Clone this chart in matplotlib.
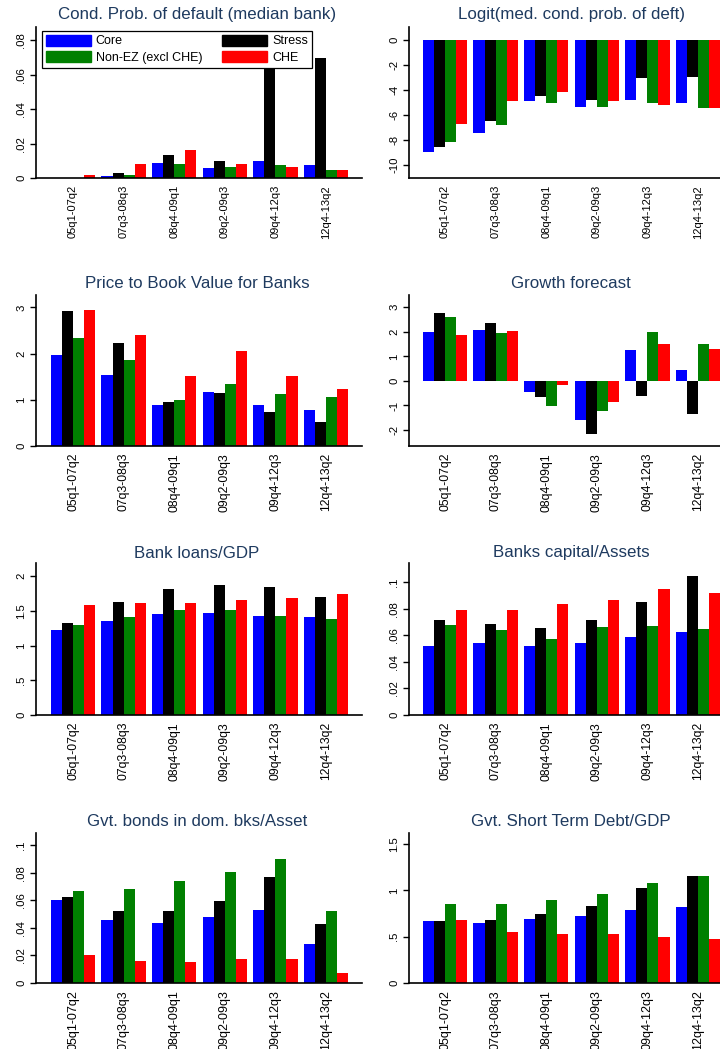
import matplotlib
matplotlib.use("Agg")
import matplotlib.pyplot as plt
import numpy as np
from matplotlib.patches import Patch

plt.rcParams['font.family'] = ['Liberation Sans', 'DejaVu Sans']

periods = ["05q1-07q2", "07q3-08q3", "08q4-09q1", "09q2-09q3", "09q4-12q3", "12q4-13q2"]
groups = ["Core", "Stress", "Non-EZ (excl CHE)", "CHE"]
colors = ["#0000ff", "#000000", "#008000", "#ff0000"]

# rows: Core, Stress, Non-EZ, CHE
cond_prob = [[0.0, 0.001, 0.0089, 0.0056, 0.010, 0.0075],
             [0.0, 0.003, 0.0135, 0.010, 0.074, 0.0698],
             [0.0, 0.0015, 0.0083, 0.0062, 0.0075, 0.0048],
             [0.0015, 0.0083, 0.016, 0.0083, 0.0062, 0.0048]]
logit_prob = [[-9.02, -7.43, -4.93, -5.36, -4.83, -5.09],
              [-8.60, -6.53, -4.51, -4.83, -3.08, -2.97],
              [-8.22, -6.82, -5.09, -5.36, -5.09, -5.46],
              [-6.71, -4.93, -4.22, -4.93, -5.20, -5.46]]
price_book = [[1.97, 1.54, 0.88, 1.17, 0.88, 0.78],
              [2.92, 2.24, 0.95, 1.15, 0.73, 0.53],
              [2.34, 1.87, 1.00, 1.34, 1.12, 1.07],
              [2.94, 2.41, 1.51, 2.05, 1.51, 1.23]]
growth = [[2.01, 2.06, -0.47, -1.59, 1.25, 0.46],
          [2.75, 2.35, -0.65, -2.16, -0.62, -1.34],
          [2.60, 1.97, -1.02, -1.22, 2.01, 1.51],
          [1.87, 2.02, -0.16, -0.85, 1.51, 1.29]]
loans_gdp = [[1.22, 1.36, 1.46, 1.47, 1.42, 1.41],
             [1.32, 1.63, 1.81, 1.88, 1.84, 1.70],
             [1.29, 1.41, 1.51, 1.51, 1.42, 1.38],
             [1.58, 1.62, 1.62, 1.65, 1.68, 1.75]]
capital_assets = [[0.0518, 0.054, 0.0518, 0.054, 0.0585, 0.0626],
                  [0.0711, 0.0683, 0.0651, 0.0711, 0.0847, 0.1048],
                  [0.0676, 0.0636, 0.0575, 0.0661, 0.0666, 0.0646],
                  [0.0789, 0.0789, 0.0837, 0.0864, 0.0947, 0.0915]]
gvt_bonds = [[0.0602, 0.0455, 0.0434, 0.0482, 0.053, 0.0287],
             [0.0627, 0.052, 0.052, 0.0593, 0.0773, 0.0427],
             [0.0667, 0.0682, 0.0742, 0.0805, 0.0904, 0.0525],
             [0.0205, 0.0157, 0.0154, 0.0173, 0.0173, 0.0075]]
short_debt = [[0.665, 0.647, 0.69, 0.72, 0.79, 0.817],
              [0.665, 0.68, 0.741, 0.827, 1.03, 1.155],
              [0.853, 0.853, 0.896, 0.96, 1.08, 1.155],
              [0.676, 0.55, 0.525, 0.525, 0.50, 0.475]]

panels = [
    ("Cond. Prob. of default (median bank)", cond_prob, (0, 0.0877),
     [0, .02, .04, .06, .08], ["0", ".02", ".04", ".06", ".08"]),
    ("Logit(med. cond. prob. of deft)", logit_prob, (-11.06, 1.0),
     [-10, -8, -6, -4, -2, 0], ["-10", "-8", "-6", "-4", "-2", "0"]),
    ("Price to Book Value for Banks", price_book, (0, 3.27),
     [0, 1, 2, 3], ["0", "1", "2", "3"]),
    ("Growth forecast", growth, (-2.65, 3.5),
     [-2, -1, 0, 1, 2, 3], ["-2", "-1", "0", "1", "2", "3"]),
    ("Bank loans/GDP", loans_gdp, (0, 2.19),
     [0, .5, 1, 1.5, 2], ["0", ".5", "1", "1.5", "2"]),
    ("Banks capital/Assets", capital_assets, (0, 0.1143),
     [0, .02, .04, .06, .08, .1], ["0", ".02", ".04", ".06", ".08", ".1"]),
    ("Gvt. bonds in dom. bks/Asset", gvt_bonds, (0, 0.109),
     [0, .02, .04, .06, .08, .1], ["0", ".02", ".04", ".06", ".08", ".1"]),
    ("Gvt. Short Term Debt/GDP", short_debt, (0, 1.62),
     [0, .5, 1, 1.5], ["0", ".5", "1", "1.5"]),
]

W, H = 720, 1049
fig = plt.figure(figsize=(W / 100, H / 100), dpi=100)

# pixel layout of the plot regions
col_x = [(36, 362, 73, 197), (409, 770, 445, 571)]   # left, right, first group centre, title centre
row_y = [(27, 178, 14, 8.0), (295, 446, 283, 8.8),
         (563, 715, 553, 8.8), (833, 983, 822, 9.0)]  # top, bottom, title, x label size
step = 50.6
bw = 0.219
title_color = "#1e3a5f"

for i, (title, vals, ylim, yt, ytl) in enumerate(panels):
    r, c = divmod(i, 2)
    x0, x1, xc, tx = col_x[c]
    y0, y1, ty, xfs = row_y[r]
    ax = fig.add_axes([x0 / W, 1 - y1 / H, (x1 - x0) / W, (y1 - y0) / H])
    ax.set_facecolor("none")
    x = np.arange(len(periods))
    for k in range(4):
        ax.bar(x + (k - 1.5) * bw, vals[k], width=bw, color=colors[k],
               linewidth=0, label=groups[k])
    ax.set_xlim((x0 - xc) / step, (x1 - xc) / step)
    ax.set_ylim(*ylim)
    ax.set_yticks(yt)
    ax.set_yticklabels(ytl, rotation=90, va="center", fontsize=8.2)
    ax.set_xticks(x)
    ax.set_xticklabels(periods, rotation=90, fontsize=xfs)
    ax.tick_params(axis="x", length=0, pad=5)
    ax.tick_params(axis="y", length=4, width=1, pad=3)
    for s in ["top", "right"]:
        ax.spines[s].set_visible(False)
    for s in ["left", "bottom"]:
        ax.spines[s].set_linewidth(1.2)
    fig.text(tx / W, 1 - ty / H, title, ha="center", va="center",
             fontsize=12.2, color=title_color)
    if i == 0:
        handles = [Patch(color=colors[k]) for k in [0, 2, 1, 3]]
        labels = [groups[k] for k in [0, 2, 1, 3]]
        leg = ax.legend(handles, labels, ncol=2, mode="expand",
                        bbox_to_anchor=(42 / W, 1 - 68 / H, 270 / W, 37 / H),
                        bbox_transform=fig.transFigure, loc="upper left",
                        fontsize=9, handlelength=3.6, handleheight=0.95,
                        handletextpad=0.4, borderpad=0.3, labelspacing=0.3,
                        fancybox=False, framealpha=1, edgecolor="black",
                        borderaxespad=0)
        leg.get_frame().set_linewidth(0.9)

fig.savefig("out.png", dpi=100)
